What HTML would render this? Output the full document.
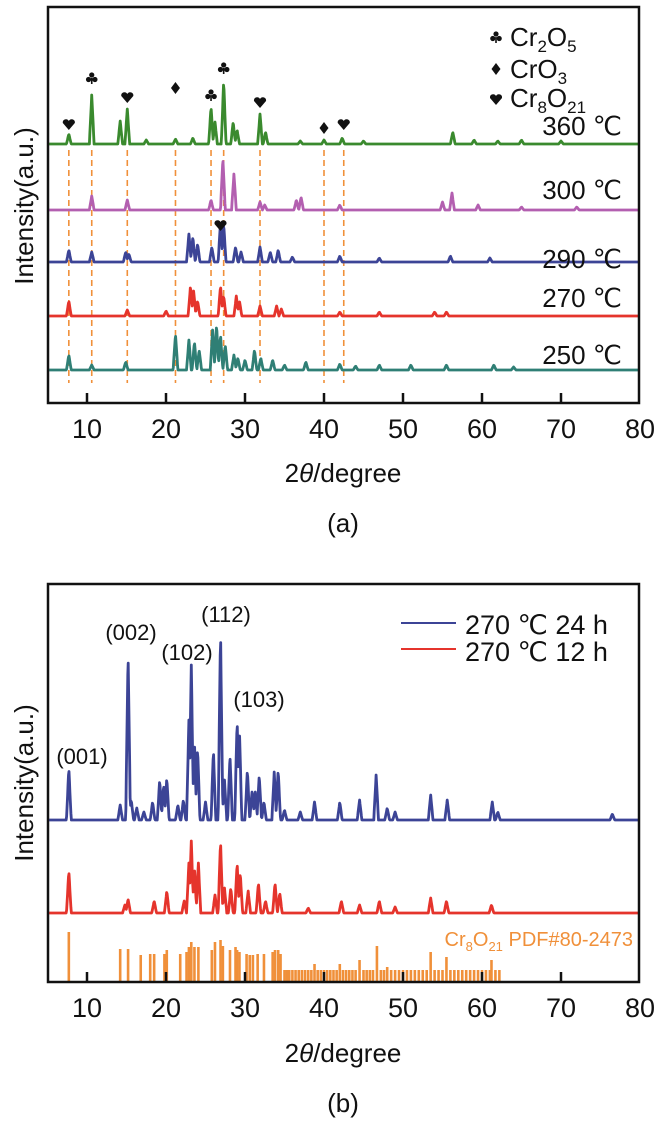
<!DOCTYPE html>
<html><head><meta charset="utf-8"><style>
html,body{margin:0;padding:0;background:#fff;}
svg{display:block;font-family:"Liberation Sans",sans-serif;}
</style></head><body>
<svg id="fig" width="664" height="1128" viewBox="0 0 664 1128" xmlns="http://www.w3.org/2000/svg"></svg>
<script>
// ---- data ----
const xTicks = [10,20,30,40,50,60,70,80];
// panel (a): peak positions (deg) and intensities (a.u.)
const a360Pos = [7.7,10.6,14.2,15.1,17.5,21.2,23.4,25.7,26.2,27.3,28.5,29.0,31.9,32.6,37,40,42.3,45,56.3,59,62,65,70];
const a360Int = [10,49,23,35,4,5,6,37,22,63,22,14,30,12,3,4,6,3,12,4,3,4,3];
const a300Pos = [10.6,15.1,25.7,27.2,28.6,31.9,32.5,36.5,37.1,42,55,56.2,59.5,65,72];
const a300Int = [14,10,10,52,36,8,5,10,13,5,8,17,5,3,3];
const a290Pos = [7.7,10.6,14.9,15.3,22.9,23.4,24.0,25.8,26.9,27.3,28.8,29.5,31.9,33.2,34.2,36,42,47,56,61];
const a290Int = [12,10,10,8,28,25,18,15,40,38,15,10,15,10,12,5,6,4,6,4];
const a270Pos = [7.7,15.1,20,23.1,23.5,24,26.9,27.3,28.9,29.3,31.9,34,34.6,42,47,54,55.5];
const a270Int = [15,6,5,30,25,15,30,20,20,15,10,10,7,4,4,4,4];
const a250Pos = [7.7,10.6,14.9,21.2,22.9,23.6,24.2,25.9,26.4,26.9,27.5,28.6,29.1,30,31.2,32,33.5,35,37.7,42,44,47,51,55.5,61.5,64];
const a250Int = [15,5,8,36,30,28,20,40,45,35,25,15,12,10,20,12,10,5,8,6,4,5,5,5,5,3];
const refLines = [7.7,10.6,15.1,21.2,25.7,27.3,31.9,40.0,42.5];
const markerPos = [7.7,10.6,15.1,21.2,25.7,27.3,31.9,40.0,42.5];
const markerType = ['heart','club','heart','diamond','club','club','heart','diamond','heart'];
const markerHt = [20,66,47,56,49,76,42,16,20];
// panel (b)
const b24Pos = [7.7,14.2,15.2,15.6,16.3,17.2,18.3,19.2,19.7,20.1,21.5,22.2,22.9,23.2,23.6,24.0,25.0,26.0,26.9,27.4,28.1,29.0,29.3,30.3,30.9,31.3,31.8,32.4,33.7,34.2,35,37,38.8,42,44.5,46.6,48,49,53.5,55.6,61.3,62,76.5];
const b24Int = [52,15,168,20,12,8,18,40,35,42,15,20,100,155,78,72,18,70,190,40,65,100,90,50,30,28,45,18,48,50,10,8,18,18,20,45,12,8,25,20,18,8,6];
const b12Pos = [7.7,14.8,15.2,18.5,20.1,22.3,22.9,23.2,23.6,24.1,26.2,26.9,27.4,28.2,29.0,29.4,30.4,31.7,32.6,33.8,34.4,38,42.2,44.5,47,49,53.5,55.5,61.2];
const b12Int = [42,8,14,12,22,12,50,72,45,50,18,72,25,25,50,40,22,30,12,30,20,5,12,8,12,6,15,12,8];
const stickPos = [7.7,14.2,15.2,16.8,18,18.5,19.8,20.1,21.8,22.6,22.9,23.2,23.6,24.1,25.8,26.2,26.9,27.2,28.1,28.8,29.0,29.3,30.2,30.6,31.0,31.6,32.4,33.5,33.8,34.2,34.5,
 35,35.3,35.6,36,36.4,36.8,37.2,37.6,38,38.4,38.8,39.2,39.6,40,40.4,40.8,41.2,41.6,42,42.4,42.8,43.2,43.6,44,44.5,45,45.4,45.8,46.2,46.7,47.2,47.6,48,48.5,49,49.5,50,50.5,51,51.5,52,52.5,53,53.5,54,54.5,55,55.5,56,56.5,57,57.5,58,58.5,59,59.5,60,60.5,61,61.2,61.7,62.2];
const stickInt = [50,33,33,27,28,28,28,32,28,30,35,40,35,35,32,40,42,36,32,35,32,30,28,27,27,28,28,30,32,32,28,
 12,12,12,12,12,12,12,12,12,12,18,12,12,12,12,12,12,12,18,12,12,12,12,12,22,12,12,12,12,36,12,12,15,12,12,12,12,12,12,12,12,12,12,30,12,12,12,25,12,12,12,12,12,12,12,12,12,12,12,22,12,12];

// ---- helpers ----
const NS='http://www.w3.org/2000/svg';
const svg=document.getElementById('fig');
function el(tag,attrs,parent){const e=document.createElementNS(NS,tag);for(const k in attrs)e.setAttribute(k,attrs[k]);(parent||svg).appendChild(e);return e;}
const X0=48,X1=639;
function xs(v){return 87+(v-10)*(561-87)/60;}
function profile(pos,ints,base,k){
  let d='';
  for(let x=5.2;x<=79.9;x+=0.06){
    let h=0;
    for(let i=0;i<pos.length;i++){const t=Math.abs(x-pos[i]);if(t<0.3)h=Math.max(h,ints[i]*(1-t/0.3));}
    d+=(d?'L':'M')+xs(x).toFixed(1)+','+(base-h*k).toFixed(1);
  }
  return d;
}
function frame(y0,y1,name){
  const r=el('rect',{x:X0,y:y0,width:X1-X0,height:y1-y0,fill:'none',stroke:'#111','stroke-width':2.5});
  
  
  xTicks.forEach(v=>{
    if(v<80){const t=el('line',{x1:xs(v),x2:xs(v),y1:y1,y2:y1-10,stroke:'#111','stroke-width':2.5});
    
    }
    const l=el('text',{x:xs(v),y:y1+35,'font-size':27,'text-anchor':'middle',fill:'#111'});l.textContent=v;
    
    
  });
}
function txt(s,attrs,name){const t=el('text',attrs);t.textContent=s;return t;}
function mark(type,x,y){
  let e;
  if(type==='heart') e=el('path',{d:`M${x},${y+6} L${x-6},${y-1} A3.2,3.2 0 0 1 ${x},${y-3} A3.2,3.2 0 0 1 ${x+6},${y-1} Z`,fill:'#111'});
  else if(type==='diamond') e=el('path',{d:`M${x},${y-6} L${x+4.5},${y} L${x},${y+6} L${x-4.5},${y} Z`,fill:'#111'});
  else {e=el('g',{fill:'#111'});el('circle',{cx:x,cy:y-3,r:2.6},e);el('circle',{cx:x-3.2,cy:y+1.5,r:2.6},e);el('circle',{cx:x+3.2,cy:y+1.5,r:2.6},e);el('rect',{x:x-0.8,y:y,width:1.6,height:6},e);}
  
  
}

// ---- panel (a) ----
refLines.forEach(v=>{const l=el('line',{x1:xs(v),x2:xs(v),y1:150,y2:383,stroke:'#f0903a','stroke-width':1.6,'stroke-dasharray':'6,4'});
  
  });
const aSeries=[[a250Pos,a250Int,370,'#2f7f75','250'],[a270Pos,a270Int,316,'#e5342c','270'],[a290Pos,a290Int,262,'#3c4496','290'],[a300Pos,a300Int,210,'#b35fb0','300'],[a360Pos,a360Int,144,'#3a8a2e','360']];
aSeries.forEach(s=>{const p=el('path',{d:profile(s[0],s[1],s[2],1),fill:'none',stroke:s[3],'stroke-width':2.8,'stroke-linejoin':'round'});
  
  });
frame(7,403,'panel-a');
markerPos.forEach((v,i)=>mark(markerType[i],xs(v),144-markerHt[i]));
mark('heart',xs(26.9),225);
txt('360 ℃',{x:622,y:135,'font-size':26,'text-anchor':'end',fill:'#111'},'label-360');
txt('300 ℃',{x:622,y:199,'font-size':26,'text-anchor':'end',fill:'#111'},'label-300');
txt('290 ℃',{x:622,y:268,'font-size':26,'text-anchor':'end',fill:'#111'},'label-290');
txt('270 ℃',{x:622,y:307,'font-size':26,'text-anchor':'end',fill:'#111'},'label-270');
txt('250 ℃',{x:622,y:364,'font-size':26,'text-anchor':'end',fill:'#111'},'label-250');
mark('club',496,37);mark('diamond',496,69);mark('heart',496,99);
(function(){
  const t=el('text',{x:510,y:46,'font-size':26,fill:'#111'});t.innerHTML='Cr<tspan font-size="17" dy="6">2</tspan><tspan dy="-6">O</tspan><tspan font-size="17" dy="6">5</tspan>';
  
  const t2=el('text',{x:510,y:78,'font-size':26,fill:'#111'});t2.innerHTML='CrO<tspan font-size="17" dy="6">3</tspan>';
  
  const t3=el('text',{x:510,y:107,'font-size':26,fill:'#111'});t3.innerHTML='Cr<tspan font-size="17" dy="6">8</tspan><tspan dy="-6">O</tspan><tspan font-size="17" dy="6">21</tspan>';
  
})();
txt('Intensity(a.u.)',{x:0,y:0,'font-size':26,'text-anchor':'middle',fill:'#111',transform:'translate(33,206) rotate(-90)'},'y-axis-title-a');
(function(){const t=el('text',{x:343,y:482,'font-size':26,'text-anchor':'middle',fill:'#111'});t.innerHTML='2<tspan font-style="italic">θ</tspan>/degree';
  })();
txt('(a)',{x:343,y:532,'font-size':26,'text-anchor':'middle',fill:'#111'},'panel-a-caption');

// ---- panel (b) ----
stickPos.forEach((v,i)=>{const l=el('line',{x1:xs(v),x2:xs(v),y1:982,y2:982-stickInt[i],stroke:'#f0903a','stroke-width':2.6});
  
  });
const p12=el('path',{d:profile(b12Pos,b12Int,913,1),fill:'none',stroke:'#e5342c','stroke-width':2.8,'stroke-linejoin':'round'});

const p24=el('path',{d:profile(b24Pos,b24Int,820,1),fill:'none',stroke:'#3c4496','stroke-width':2.8,'stroke-linejoin':'round'});

frame(584,982,'panel-b');
txt('(001)',{x:82,y:764,'font-size':22,'text-anchor':'middle',fill:'#111'},'peak-label-001');
txt('(002)',{x:131,y:640,'font-size':22,'text-anchor':'middle',fill:'#111'},'peak-label-002');
txt('(102)',{x:187,y:660,'font-size':22,'text-anchor':'middle',fill:'#111'},'peak-label-102');
txt('(112)',{x:226,y:622,'font-size':22,'text-anchor':'middle',fill:'#111'},'peak-label-112');
txt('(103)',{x:259,y:707,'font-size':22,'text-anchor':'middle',fill:'#111'},'peak-label-103');
const lg1=el('line',{x1:401,x2:456,y1:623,y2:623,stroke:'#3c4496','stroke-width':2});
const lg2=el('line',{x1:401,x2:456,y1:649,y2:649,stroke:'#e5342c','stroke-width':2});
txt('270 ℃ 24 h',{x:465,y:634,'font-size':27,fill:'#111'},'legend-entry-24h');
txt('270 ℃ 12 h',{x:465,y:661,'font-size':27,fill:'#111'},'legend-entry-12h');
(function(){const t=el('text',{x:633,y:946,'font-size':20,'text-anchor':'end',fill:'#f0903a'});
  t.innerHTML='Cr<tspan font-size="13" dy="5">8</tspan><tspan dy="-5">O</tspan><tspan font-size="13" dy="5">21</tspan><tspan dy="-5"> PDF#80-2473</tspan>';
  })();
txt('Intensity(a.u.)',{x:0,y:0,'font-size':26,'text-anchor':'middle',fill:'#111',transform:'translate(33,783) rotate(-90)'},'y-axis-title-b');
(function(){const t=el('text',{x:343,y:1062,'font-size':26,'text-anchor':'middle',fill:'#111'});t.innerHTML='2<tspan font-style="italic">θ</tspan>/degree';
  })();
txt('(b)',{x:343,y:1112,'font-size':26,'text-anchor':'middle',fill:'#111'},'panel-b-caption');
</script>
</body></html>
